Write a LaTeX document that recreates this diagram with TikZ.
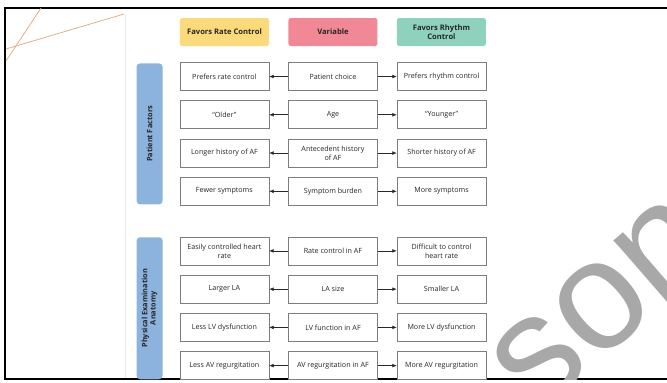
\documentclass[tikz,border=0pt]{standalone}
\usepackage{fontspec}
\setmainfont{Open Sans}
\newfontfamily\markfont{Liberation Sans}
\usetikzlibrary{positioning, arrows.meta, calc}
\definecolor{colRate}{RGB}{250,218,122}
\definecolor{colVar}{RGB}{240,136,150}
\definecolor{colRhythm}{RGB}{142,210,190}
\definecolor{colSide}{RGB}{140,178,222}
\definecolor{colBorder}{RGB}{125,125,125}
\definecolor{colArrow}{RGB}{40,40,40}
\definecolor{colMark}{RGB}{232,165,118}
\definecolor{colWater}{RGB}{168,168,168}
\tikzset{
  box/.style={
    rectangle, draw=colBorder, line width=0.5pt, fill=white,
    minimum width=2.67cm, minimum height=0.84cm,
    inner sep=2pt, align=center, text=black!85,
    font=\fontsize{6.1}{7.6}\selectfont
  },
  headBox/.style={
    rectangle, rounded corners=2pt,
    minimum width=2.67cm, minimum height=0.84cm,
    inner sep=2pt, align=center, text=black!85,
    font=\fontsize{6.5}{7.2}\selectfont\bfseries
  },
  sideBox/.style={
    rectangle, rounded corners=3pt, fill=colSide,
    rotate=90, minimum height=0.78cm,
    inner sep=2pt, align=center, text=black!85,
    font=\fontsize{6.3}{7.2}\selectfont\bfseries
  },
  waterMark/.style={
    text=colWater, font=\markfont\fontsize{132}{132}\selectfont
  },
  arr/.style={
    -{Latex[length=3.8pt, width=3.2pt]}, line width=0.5pt, color=colArrow
  }
}

\begin{document}
\begin{tikzpicture}[x=0.03cm, y=-0.03cm, node distance=0.29cm and 0.57cm]
\useasboundingbox (0,0) rectangle (667,382);

%% ==============================================================
%% Slide frame
%% ==============================================================
\draw[black!8, line width=0.6pt] (125,14) -- (125,379);
\draw[line width=1.7pt] (667,8) -- (5,8) -- (5,379) -- (667,379);
\draw[colMark, line width=0.6pt] (41,8) -- (6,61);
\draw[colMark, line width=0.6pt] (6,49) -- (124,14);

%% ==============================================================
%% Column headers
%% ==============================================================
\node[headBox, fill=colRate] (hRate) at (224.5,32) {Favors Rate Control};
\node[headBox, fill=colVar, right=of hRate] (hVar) {Variable};
\node[headBox, fill=colRhythm, right=of hVar] (hRhythm) {Favors Rhythm\\Control};

%% ==============================================================
%% Patient factors
%% ==============================================================

% --- Patient choice ---
\node[box, below=0.48cm of hVar] (choice) {Patient choice};
\node[box, left=of choice] (choiceL) {Prefers rate control};
\node[box, right=of choice] (choiceR) {Prefers rhythm control};

% --- Age ---
\node[box, below=of choice] (age) {Age};
\node[box, left=of age] (ageL) {``Older''};
\node[box, right=of age] (ageR) {``Younger''};

% --- History ---
\node[box, below=of age] (hist) {Antecedent history\\of AF};
\node[box, left=of hist] (histL) {Longer history of AF};
\node[box, right=of hist] (histR) {Shorter history of AF};

% --- Symptoms ---
\node[box, below=of hist] (burden) {Symptom burden};
\node[box, left=of burden] (burdenL) {Fewer symptoms};
\node[box, right=of burden] (burdenR) {More symptoms};

\node[sideBox, minimum width=4.23cm] (sidePat)
  at ($(choiceL.north west)!0.5!(burdenL.south west) + (-30,0)$) {Patient Factors};

%% ==============================================================
%% Physical examination / anatomy
%% ==============================================================

% --- Rate control ---
\node[box, below=0.93cm of burden] (rateAF) {Rate control in AF};
\node[box, left=of rateAF] (rateAFL) {Easily controlled heart\\rate};
\node[box, right=of rateAF] (rateAFR) {Difficult to control\\heart rate};

% --- LA size ---
\node[box, below=of rateAF] (la) {LA size};
\node[box, left=of la] (laL) {Larger LA};
\node[box, right=of la] (laR) {Smaller LA};

% --- LV function ---
\node[box, below=of la] (lv) {LV function in AF};
\node[box, left=of lv] (lvL) {Less LV dysfunction};
\node[box, right=of lv] (lvR) {More LV dysfunction};

% --- AV regurgitation ---
\node[box, below=of lv] (av) {AV regurgitation in AF};
\node[box, left=of av] (avL) {Less AV regurgitation};
\node[box, right=of av] (avR) {More AV regurgitation};

\node[sideBox, minimum width=4.26cm] (sideExam)
  at ($(rateAFL.north west)!0.5!(avL.south west) + (-30,0)$)
  {Physical Examination\\Anatomy};

%% ==============================================================
%%  ARROWS
%% ==============================================================
\draw[arr] (choice) -- (choiceL);
\draw[arr] (choice) -- (choiceR);
\draw[arr] (age) -- (ageL);
\draw[arr] (age) -- (ageR);
\draw[arr] (hist) -- (histL);
\draw[arr] (hist) -- (histR);
\draw[arr] (burden) -- (burdenL);
\draw[arr] (burden) -- (burdenR);
\draw[arr] (rateAF) -- (rateAFL);
\draw[arr] (rateAF) -- (rateAFR);
\draw[arr] (la) -- (laL);
\draw[arr] (la) -- (laR);
\draw[arr] (lv) -- (lvL);
\draw[arr] (lv) -- (lvR);
\draw[arr] (av) -- (avL);
\draw[arr] (av) -- (avR);

%% ==============================================================
%%  Watermark
%% ==============================================================
\begin{scope}
  \clip (5,8) rectangle (667,379);
  \node[waterMark, rotate=41] (mark) at (604,304) {son};
\end{scope}

\end{tikzpicture}
\end{document}
